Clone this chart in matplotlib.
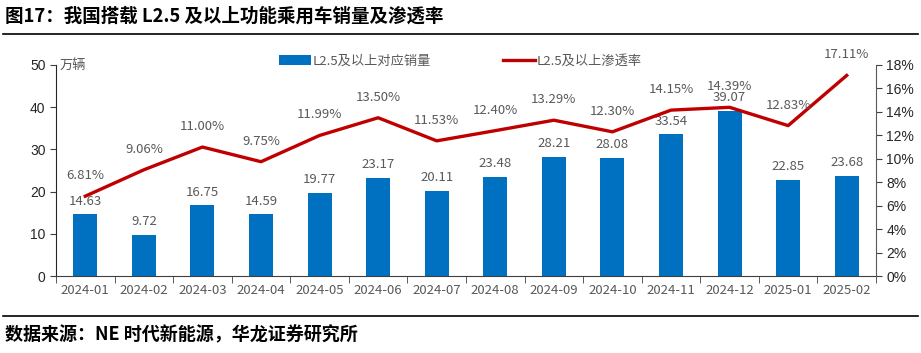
import matplotlib.pyplot as plt
import numpy as np
from matplotlib.lines import Line2D

plt.rcParams['font.family'] = ['Noto Sans CJK SC', 'DejaVu Sans']

# data
months = ['2024-01', '2024-02', '2024-03', '2024-04', '2024-05', '2024-06', '2024-07',
          '2024-08', '2024-09', '2024-10', '2024-11', '2024-12', '2025-01', '2025-02']
sales = [14.63, 9.72, 16.75, 14.59, 19.77, 23.17, 20.11,
         23.48, 28.21, 28.08, 33.54, 39.07, 22.85, 23.68]
rate = [6.81, 9.06, 11.00, 9.75, 11.99, 13.50, 11.53,
        12.40, 13.29, 12.30, 14.15, 14.39, 12.83, 17.11]

W, H = 921, 353
fig = plt.figure(figsize=(W / 100, H / 100), dpi=100)
ax = fig.add_axes([56 / W, 1 - 276 / H, 820 / W, 211 / H])
ax2 = ax.twinx()

x = np.arange(len(months))
blue = '#0070C0'
red = '#C00000'
gray = '#595959'

bars = ax.bar(x, sales, width=0.41, color=blue, label='L2.5及以上对应销量', zorder=2)
ln, = ax2.plot(x, rate, color=red, lw=2.4, label='L2.5及以上渗透率', zorder=3)

ax.set_xlim(-0.5, len(months) - 0.5)
ax.set_ylim(0, 50)
ax.set_yticks(range(0, 51, 10))
ax2.set_ylim(0, 18)
ax2.set_yticks(range(0, 19, 2))
ax2.set_yticklabels([f'{v}%' for v in range(0, 19, 2)])

ax.set_xticks(x)
ax.set_xticklabels(months, color=gray, fontsize=9.5)
ax.set_xticks(np.arange(-0.5, len(months), 1), minor=True)
ax.tick_params(axis='x', which='major', length=0, pad=6)
ax.tick_params(axis='x', which='minor', length=5, color='#404040')
ax.tick_params(axis='y', length=4, color='#404040', labelsize=10, labelcolor='#262626')
ax2.tick_params(axis='y', length=4, color='#404040', labelsize=10, labelcolor='#262626')
for lab in ax.get_yticklabels() + ax2.get_yticklabels():
    lab.set_family(['Liberation Sans', 'DejaVu Sans'])

ax.spines['top'].set_visible(False)
ax2.spines['top'].set_visible(False)
ax2.spines['left'].set_visible(False)
ax2.spines['bottom'].set_visible(False)
ax.spines['right'].set_visible(False)
ax.spines['left'].set_color('#262626')
ax.spines['bottom'].set_color('#404040')
ax2.spines['right'].set_color('#595959')

# value labels
for xi, v in zip(x, sales):
    ax.text(xi, v + 1.6, f'{v:.2f}', ha='center', va='bottom', color=gray, fontsize=9.5)
for xi, r in zip(x, rate):
    ax2.text(xi, r + 1.2, f'{r:.2f}%', ha='center', va='bottom', color=gray, fontsize=9.5)

ax.text(0.004, 1.0, '万辆', transform=ax.transAxes, ha='left', va='center',
        color=gray, fontsize=9.5)

fig.legend([bars, ln], ['L2.5及以上对应销量', 'L2.5及以上渗透率'], loc='center',
           bbox_to_anchor=(0.5, 1 - 61 / H), ncol=2, frameon=False, fontsize=9.5,
           labelcolor=gray, handlelength=2.4, handletextpad=0.1, columnspacing=5.5)

# title, rules and source
fig.text(5 / W, 1 - 16 / H, '图17：我国搭载 L2.5 及以上功能乘用车销量及渗透率',
         ha='left', va='center', fontsize=13.3, fontweight='bold')
fig.add_artist(Line2D([3 / W, 918 / W], [1 - 34 / H] * 2, color='black', lw=1.2))
fig.add_artist(Line2D([3 / W, 918 / W], [1 - 316 / H] * 2, color='black', lw=1.2))
fig.text(5 / W, 1 - 335 / H, '数据来源：NE 时代新能源，华龙证券研究所',
         ha='left', va='center', fontsize=13, fontweight='bold')

fig.savefig('out.png', dpi=100)
